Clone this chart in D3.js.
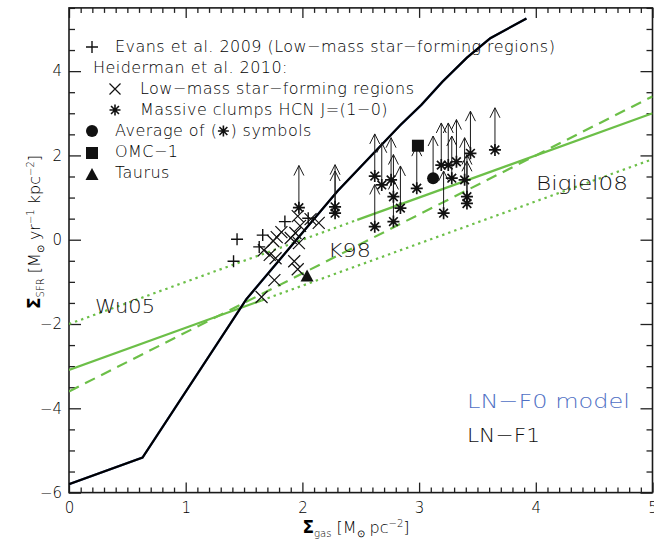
<!DOCTYPE html>
<html><head><meta charset="utf-8">
<script src="https://cdn.jsdelivr.net/npm/d3@7"></script>
<style>
body{margin:0;background:#fff}
svg{display:block}
text{font-family:"DejaVu Sans",sans-serif;fill:#000;font-weight:300}
</style>
</head><body>
<svg id="chart" width="654" height="545"></svg>
<script>
// ---- data (log Σgas, log ΣSFR) ----
const evansPoints = [[1.44,0.01],[1.41,-0.51],[1.66,0.11],[1.63,-0.17],[1.85,0.43],[2.05,0.51]];
const heidermanLow = [[1.96,0.56],[2.07,0.49],[2.14,0.40],[1.98,0.33],[1.82,0.18],[1.94,0.16],
  [1.78,0.06],[1.90,0.04],[1.75,-0.03],[1.97,-0.08],[1.67,-0.25],[1.72,-0.36],[1.77,-0.44],
  [1.93,-0.51],[1.96,-0.70],[1.76,-0.96],[1.65,-1.36]];
const hcnClumps = [[1.97,0.76],[2.28,0.78],[2.28,0.63],[2.62,1.51],[2.68,1.30],[2.62,0.31],
  [2.76,1.42],[2.78,1.02],[2.78,0.43],[2.84,0.75],[2.98,1.22],[3.19,1.77],[3.25,1.77],
  [3.32,1.85],[3.28,1.46],[3.21,0.63],[3.44,2.05],[3.39,1.42],[3.41,1.02],[3.41,0.86],[3.65,2.13]];
const hcnAverage = [[3.12,1.46]];
const omc1 = [[2.99,2.23]];
const taurus = [[2.04,-0.86]];
const limitArrow = 1.0;   // lower limits: arrow length in dex

// model curve (LN-F0 / LN-F1)
const lnModel = [[0,-5.8],[0.63,-5.17],[1.52,-1.41],[2.3,1.15],[2.84,2.72],[3.02,3.2],
  [3.2,3.75],[3.41,4.32],[3.61,4.78],[3.92,5.25]];

// empirical relations, split into solid (fitted range) and dotted (extrapolated) parts
const bigielSolid = [[0,-3.09],[1.65,-1.44]];
const bigielDotted = [[1.65,-1.44],[5,1.91]];
const wuDotted = [[0,-2.0],[2.47,0.47]];
const wuSolid = [[2.47,0.47],[5,3.0]];
const k98Dashed = [[0,-3.6],[5,3.4]];

const xMajor = [0,1,2,3,4,5];
const yMajor = [-6,-4,-2,0,2,4];

// ---- layout ----
const svg = d3.select("#chart");
const L = 69, R = 652.5, T = 7.9, B = 492.6;
const x = d3.scaleLinear().domain([0,5]).range([L,R]);
const y = d3.scaleLinear().domain([-6,5.5]).range([B,T]);
const green = "#6cbf48", blue = "#5070c4";

const xMinor = d3.range(0,5.001,0.1).map(v=>+v.toFixed(1)).filter(v=>!xMajor.includes(v));
const yMinor = d3.range(-6,5.501,0.5).filter(v=>!yMajor.includes(v));

function axisG(axis, tx, ty){
  const g = svg.append("g").attr("transform",`translate(${tx},${ty})`).call(axis);
  g.select(".domain").remove();
  g.selectAll(".tick line").attr("stroke","#222").attr("stroke-width",1.3);
  g.selectAll(".tick text").attr("font-size",15).attr("font-family","DejaVu Sans").attr("fill","#222");
  return g;
}
// bottom
axisG(d3.axisBottom(x).tickValues(xMajor).tickSize(-10).tickPadding(10).tickFormat(d3.format("d")),0,B);
axisG(d3.axisBottom(x).tickValues(xMinor).tickSize(-5).tickFormat(""),0,B);
// top
axisG(d3.axisTop(x).tickValues(xMajor).tickSize(-10).tickFormat(""),0,T);
axisG(d3.axisTop(x).tickValues(xMinor).tickSize(-5).tickFormat(""),0,T);
// left
axisG(d3.axisLeft(y).tickValues(yMajor).tickSize(-12).tickPadding(7).tickFormat(d3.format("d")),L,0);
axisG(d3.axisLeft(y).tickValues(yMinor).tickSize(-6).tickFormat(""),L,0);
// right
axisG(d3.axisRight(y).tickValues(yMajor).tickSize(-12).tickFormat(""),R,0);
axisG(d3.axisRight(y).tickValues(yMinor).tickSize(-6).tickFormat(""),R,0);

svg.append("rect").attr("x",L).attr("y",T).attr("width",R-L).attr("height",B-T)
  .attr("fill","none").attr("stroke","#1a1a1a").attr("stroke-width",1.6);

svg.append("clipPath").attr("id","plotclip").append("rect")
  .attr("x",L).attr("y",T).attr("width",R-L).attr("height",B-T);
const plot = svg.append("g").attr("clip-path","url(#plotclip)");

const line = d3.line().x(d=>x(d[0])).y(d=>y(d[1]));

// relations
function rel(data, dash){
  plot.append("path").attr("d",line(data)).attr("fill","none").attr("stroke",green)
    .attr("stroke-width",2.2).attr("stroke-dasharray",dash||null);
}
rel(bigielSolid); rel(bigielDotted,"2.4,4");
rel(wuDotted,"2.4,4"); rel(wuSolid);
rel(k98Dashed,"11,7");

// model curves: LN-F0 (blue) lies underneath LN-F1 (black)
plot.append("path").attr("d",line(lnModel)).attr("fill","none").attr("stroke",blue).attr("stroke-width",2.3);
plot.append("path").attr("d",line(lnModel)).attr("fill","none").attr("stroke","#000").attr("stroke-width",2.2);

// symbol path generators (pixel space)
function plusPath(cx,cy,r){return `M${cx-r},${cy}H${cx+r}M${cx},${cy-r}V${cy+r}`;}
function crossPath(cx,cy,r){return `M${cx-r},${cy-r}L${cx+r},${cy+r}M${cx-r},${cy+r}L${cx+r},${cy-r}`;}
function starPath(cx,cy,r){const d=r*0.72;return `M${cx-r},${cy}H${cx+r}M${cx},${cy-r}V${cy+r}M${cx-d},${cy-d}L${cx+d},${cy+d}M${cx-d},${cy+d}L${cx+d},${cy-d}`;}
function arrowPath(px,y0,y1){const t=y(y1);return `M${px},${y(y0)}V${t}M${px-5},${t+10}L${px},${t}L${px+5},${t+10}`;}

// lower-limit arrows
const arrows = plot.append("g").attr("fill","none").attr("stroke","#1a1a1a").attr("stroke-width",1);
hcnClumps.concat(hcnAverage).forEach(d=>{
  arrows.append("path").attr("d",arrowPath(x(d[0]),d[1],d[1]+limitArrow));
});

// points
plot.append("g").selectAll("path").data(evansPoints).join("path")
  .attr("d",d=>plusPath(x(d[0]),y(d[1]),6)).attr("stroke","#111").attr("stroke-width",1.4);
plot.append("g").selectAll("path").data(heidermanLow).join("path")
  .attr("d",d=>crossPath(x(d[0]),y(d[1]),6)).attr("stroke","#111").attr("stroke-width",1.2);
plot.append("g").selectAll("path").data(hcnClumps).join("path")
  .attr("d",d=>starPath(x(d[0]),y(d[1]),6)).attr("stroke","#111").attr("stroke-width",1.7);
plot.append("g").selectAll("circle").data(hcnAverage).join("circle")
  .attr("cx",d=>x(d[0])).attr("cy",d=>y(d[1])).attr("r",6).attr("fill","#111");
plot.append("g").selectAll("rect").data(omc1).join("rect")
  .attr("x",d=>x(d[0])-6).attr("y",d=>y(d[1])-6).attr("width",12).attr("height",12).attr("fill","#111");
plot.append("g").selectAll("path").data(taurus).join("path")
  .attr("d",d=>{const cx=x(d[0]),cy=y(d[1]);return `M${cx-6.5},${cy+5.5}L${cx+6.5},${cy+5.5}L${cx},${cy-6.5}Z`;})
  .attr("fill","#111");

// legend
const lg = svg.append("g");
const lgText = (tx,ty,s)=>lg.append("text").attr("x",tx).attr("y",ty).attr("font-size",16)
  .attr("letter-spacing",0.45).text(s);
lg.append("path").attr("d",plusPath(92,47,6)).attr("stroke","#111").attr("stroke-width",1.4);
lgText(115,52,"Evans et al. 2009 (Low\u2212mass star\u2212forming regions)");
lgText(93,73,"Heiderman et al. 2010:");
lg.append("path").attr("d",crossPath(115,89,5.5)).attr("stroke","#111").attr("stroke-width",1.2);
lgText(140,94,"Low\u2212mass star\u2212forming regions");
lg.append("path").attr("d",starPath(115,110,5.5)).attr("stroke","#111").attr("stroke-width",1.6);
lgText(140,115,"Massive clumps HCN J=(1\u22120)");
lg.append("circle").attr("cx",92).attr("cy",131).attr("r",6).attr("fill","#111");
const avg1 = lgText(115,136,"Average of (");
const aw = avg1.node().getComputedTextLength();
lg.append("path").attr("d",starPath(115+aw+6,131,5.5)).attr("stroke","#111").attr("stroke-width",1.6);
lgText(115+aw+13,136,") symbols");
lg.append("rect").attr("x",86).attr("y",147).attr("width",12).attr("height",12).attr("fill","#111");
lgText(115,157,"OMC\u22121");
lg.append("path").attr("d","M85.5,180L98.5,180L92,168Z").attr("fill","#111");
lgText(115,178,"Taurus");

// relation and model labels
const lab = (tx,ty,s,w,c)=>svg.append("text").attr("x",tx).attr("y",ty).attr("font-size",20)
  .attr("textLength",w).attr("lengthAdjust","spacingAndGlyphs").style("fill",c||"#111").text(s);
lab(536,190,"Bigiel08",92);
lab(328,257,"K98",43);
lab(95,313,"Wu05",60);
lab(467,408,"LN\u2212F0 model",163,blue);
lab(467,442,"LN\u2212F1",73);

// axis titles
const xt = svg.append("text").attr("x",356).attr("y",533).attr("text-anchor","middle").attr("font-size",16);
xt.append("tspan").attr("font-weight","bold").attr("font-size",17).text("\u03A3");
xt.append("tspan").attr("font-size",10).attr("dy",4).text("gas");
xt.append("tspan").attr("dy",-4).text(" [M");
xt.append("tspan").attr("font-size",10).attr("dy",4).text("\u2299");
xt.append("tspan").attr("dy",-4).text(" pc");
xt.append("tspan").attr("font-size",10).attr("dy",-6).text("\u22122");
xt.append("tspan").attr("dy",6).text("]");

const yt = svg.append("text").attr("transform","translate(40,232) rotate(-90)").attr("text-anchor","middle").attr("font-size",16);
yt.append("tspan").attr("font-weight","bold").attr("font-size",17).text("\u03A3");
yt.append("tspan").attr("font-size",10).attr("dy",4).text("SFR");
yt.append("tspan").attr("dy",-4).text(" [M");
yt.append("tspan").attr("font-size",10).attr("dy",4).text("\u2299");
yt.append("tspan").attr("dy",-4).text(" yr");
yt.append("tspan").attr("font-size",10).attr("dy",-6).text("\u22121");
yt.append("tspan").attr("dy",6).text(" kpc");
yt.append("tspan").attr("font-size",10).attr("dy",-6).text("\u22122");
yt.append("tspan").attr("dy",6).text("]");
</script>
</body></html>
